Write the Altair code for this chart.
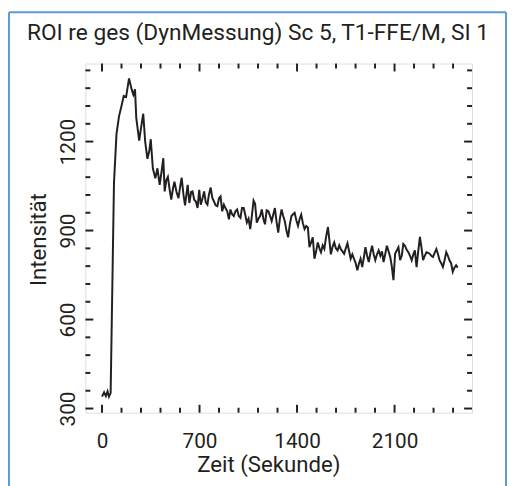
import altair as alt
import pandas as pd

# --- data ---
zeit = [0, 15, 28, 40, 50, 62, 86, 104, 122, 140, 156, 173, 194, 213, 225, 237, 246, 267, 280, 296,
        310, 326, 340, 350, 365, 383, 398, 414, 428, 440, 450, 462, 473, 485, 497, 509, 520, 535, 549, 560,
        572, 585, 596, 615, 627, 640, 650, 662, 674, 686, 698, 709, 722, 733, 745, 757, 767, 780, 792, 804,
        816, 828, 840, 851, 863, 875, 887, 899, 911, 922, 934, 946, 958, 970, 982, 994, 1005, 1017, 1030, 1040,
        1052, 1064, 1076, 1088, 1099, 1111, 1123, 1135, 1147, 1159, 1170, 1182, 1194, 1206, 1218, 1230, 1241, 1253, 1265, 1277,
        1289, 1300, 1312, 1324, 1336, 1348, 1360, 1371, 1383, 1395, 1407, 1419, 1430, 1442, 1454, 1466, 1478, 1489, 1501, 1513,
        1525, 1537, 1549, 1561, 1572, 1584, 1596, 1608, 1622, 1643, 1655, 1667, 1679, 1691, 1703, 1714, 1726, 1738, 1750, 1762,
        1774, 1785, 1797, 1809, 1821, 1833, 1845, 1856, 1868, 1880, 1891, 1903, 1915, 1927, 1939, 1950, 1962, 1974, 1986, 1998,
        2010, 2021, 2033, 2045, 2057, 2069, 2080, 2092, 2104, 2116, 2128, 2140, 2152, 2163, 2175, 2187, 2199, 2211, 2223, 2235,
        2246, 2258, 2270, 2282, 2294, 2305, 2317, 2329, 2341, 2352, 2364, 2376, 2388, 2400, 2412, 2423, 2435, 2447, 2459, 2471,
        2483, 2494, 2506, 2518, 2530, 2542, 2553]
intensitaet = [340, 355, 342, 358, 340, 352, 1060, 1225, 1285, 1320, 1354, 1350, 1413, 1376, 1358, 1376, 1280, 1203, 1245, 1294,
               1200, 1142, 1170, 1208, 1110, 1076, 1110, 1054, 1100, 1144, 1032, 1070, 1081, 1040, 1004, 1040, 1065, 1030, 1009, 1045,
               1078, 1020, 985, 1054, 993, 1030, 1032, 1004, 998, 976, 1037, 987, 1010, 1032, 995, 987, 1020, 1045, 1010, 998,
               985, 982, 1009, 1015, 965, 987, 975, 965, 938, 971, 955, 949, 965, 971, 949, 943, 976, 976, 950, 927,
               940, 905, 950, 1001, 990, 927, 940, 949, 971, 938, 921, 968, 965, 950, 932, 955, 976, 930, 893, 940,
               971, 950, 932, 900, 877, 920, 949, 955, 960, 935, 916, 940, 954, 925, 905, 915, 910, 844, 860, 877,
               805, 830, 860, 840, 827, 850, 838, 877, 912, 820, 845, 860, 840, 833, 850, 838, 830, 822, 840, 857,
               830, 805, 820, 805, 790, 766, 790, 805, 777, 810, 844, 815, 794, 825, 849, 820, 800, 820, 833, 815,
               830, 794, 820, 849, 830, 811, 780, 733, 822, 833, 844, 800, 816, 855, 849, 835, 827, 815, 800, 820,
               833, 777, 830, 879, 840, 800, 815, 827, 825, 822, 815, 811, 825, 838, 820, 800, 790, 777, 800, 827,
               815, 800, 790, 761, 775, 783, 775]

x_labels = [0, 700, 1400, 2100]
y_labels = [300, 600, 900, 1200]
x_minor = [v for v in range(0, 2660, 140) if v not in x_labels]
y_minor = [v for v in range(300, 1441, 60) if v not in y_labels]
chart_title = "ROI re ges (DynMessung) Sc 5, T1-FFE/M, SI 1"

X_DOMAIN = [-119, 2656]
Y_DOMAIN = [286, 1463]
W, H = 392, 354
FONT = "Roboto"
FS = 21
TFS = 22.5
INK = "#231f20"
BLUE = "#5b9bd5"

df = pd.DataFrame({"zeit": zeit, "intensitaet": intensitaet})

xs = alt.Scale(domain=X_DOMAIN, nice=False, zero=False)
ys = alt.Scale(domain=Y_DOMAIN, nice=False, zero=False)

line = alt.Chart(df).mark_line(color=INK, strokeWidth=2).encode(
    x=alt.X("zeit:Q", scale=xs, axis=alt.Axis(
        values=x_labels, format="d", ticks=False, tickSize=0, domain=False, grid=False,
        labelFont=FONT, labelFontSize=FS, labelColor=INK, labelPadding=35, labelBaseline="alphabetic",
        title="Zeit (Sekunde)", titleFont=FONT, titleFontSize=TFS, titleFontWeight="normal", titleColor=INK,
        titleX=185.5, titleY=60, titleBaseline="alphabetic", titleAlign="center")),
    y=alt.Y("intensitaet:Q", scale=ys, axis=alt.Axis(
        values=y_labels, format="d", ticks=False, tickSize=0, domain=False, grid=False,
        labelFont=FONT, labelFontSize=FS, labelColor=INK, labelPadding=11, labelAngle=270,
        labelAlign="center", labelBaseline="alphabetic",
        title="Intensität", titleFont=FONT, titleFontSize=TFS, titleFontWeight="normal", titleColor=INK,
        titleAngle=270, titleX=-40.5, titleY=178, titleBaseline="alphabetic", titleAlign="center")),
)


def xticks(vals, length):
    d = pd.DataFrame({"v": vals})
    b = alt.Chart(d).mark_rule(color=INK, strokeWidth=2).encode(
        x=alt.X("v:Q", scale=xs), y=alt.value(H), y2=alt.value(H - length))
    t = alt.Chart(d).mark_rule(color=INK, strokeWidth=2).encode(
        x=alt.X("v:Q", scale=xs), y=alt.value(0), y2=alt.value(length))
    return [b, t]


def yticks(vals, length):
    d = pd.DataFrame({"v": vals})
    l = alt.Chart(d).mark_rule(color=INK, strokeWidth=2).encode(
        y=alt.Y("v:Q", scale=ys), x=alt.value(0), x2=alt.value(length))
    r = alt.Chart(d).mark_rule(color=INK, strokeWidth=2).encode(
        y=alt.Y("v:Q", scale=ys), x=alt.value(W), x2=alt.value(W - length))
    return [l, r]


one = pd.DataFrame({"t": [chart_title]})
border_l = alt.Chart(one).mark_rule(color=BLUE, strokeWidth=2).encode(
    x=alt.value(-77.5), y=alt.value(-52), y2=alt.value(H + 80))
border_r = alt.Chart(one).mark_rule(color=BLUE, strokeWidth=2).encode(
    x=alt.value(426.5), y=alt.value(-52), y2=alt.value(H + 80))
border_t = alt.Chart(one).mark_rule(color=BLUE, strokeWidth=2).encode(
    x=alt.value(-77.5), x2=alt.value(426.5), y=alt.value(-52))
title = alt.Chart(one).mark_text(
    font=FONT, fontSize=23, color=INK, align="center", baseline="alphabetic").encode(
    text="t:N", x=alt.value(175), y=alt.value(-24))

layers = [border_l, border_r, border_t, title, line]
layers += xticks(x_labels, 8) + xticks(x_minor, 5) + yticks(y_labels, 8) + yticks(y_minor, 5)

chart = alt.layer(*layers).properties(
    width=W, height=H,
    autosize=alt.AutoSizeParams(type="none"),
    padding={"left": 78.5, "top": 53, "right": 36.5, "bottom": 71},
).configure_view(stroke=INK, strokeWidth=2).configure(background="white")

chart.save("out.html", embed_options={"renderer": "svg", "actions": False})
